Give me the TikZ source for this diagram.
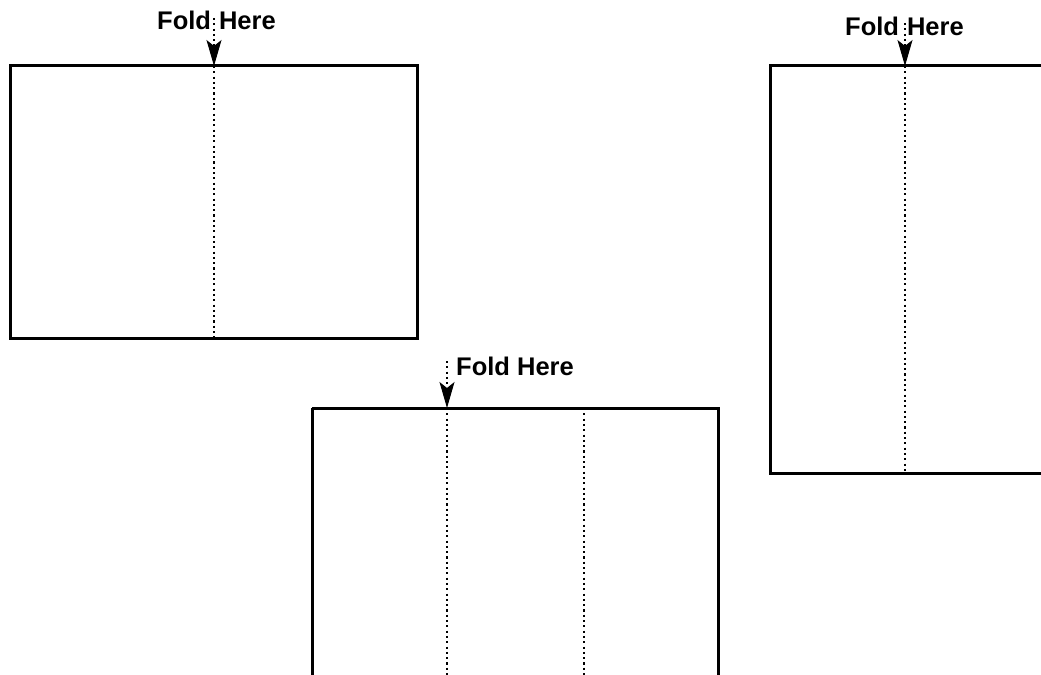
\documentclass[tikz,border=0pt]{standalone}
\usepackage{fontspec}
\setmainfont{Liberation Sans}
\usetikzlibrary{arrows.meta}
\tikzset{
  sheet/.style={line width=3bp, draw=black},
  foldline/.style={line width=2.1bp, dash pattern=on 2.1bp off 3.2bp, line cap=butt},
  foldarrow/.style={line width=2.1bp, dash pattern=on 2.1bp off 3.2bp, -{Stealth[length=26bp,width=15bp,inset=6bp,line width=1bp]}},
  lbl/.style={font=\fontsize{25.5bp}{30bp}\selectfont\bfseries, inner sep=0pt, anchor=base west}
}
\begin{document}
\begin{tikzpicture}[x=1bp,y=-1bp]
\clip (0,0) rectangle (1041,675);
\fill[white] (0,0) rectangle (1041,675);
% sheet 1
\draw[sheet] (10,66) rectangle (417,338);
\coordinate (s1top) at (214,66);
\coordinate (s1bot) at (214,338);
\draw[foldline] (s1top) -- (s1bot);
\node[lbl] (t1) at (157,30) {Fold\hspace{8bp}Here};
\coordinate (a1s) at (214,18);
\draw[foldarrow] (a1s) -- (s1top);
% sheet 2 (bottom)
\draw[sheet] (312,408) -- (312,690) (312,408) -- (718,408) -- (718,690);
\coordinate (s2atop) at (447,408);
\coordinate (s2abot) at (447,680);
\coordinate (s2btop) at (584,408);
\coordinate (s2bbot) at (584,680);
\draw[foldline] (s2atop) -- (s2abot);
\draw[foldline] (s2btop) -- (s2bbot);
\node[lbl] (t2) at (456,375) {Fold Here};
\coordinate (a2s) at (447,361);
\draw[foldarrow] (a2s) -- (s2atop);
% sheet 3 (right)
\draw[sheet] (1060,66) -- (770,66) -- (770,473) -- (1060,473);
\coordinate (s3top) at (905,66);
\coordinate (s3bot) at (905,473);
\draw[foldline] (s3top) -- (s3bot);
\node[lbl] (t3) at (845,36) {Fold\hspace{8bp}Here};
\coordinate (a3s) at (905,23);
\draw[foldarrow] (a3s) -- (s3top);
\end{tikzpicture}
\end{document}
